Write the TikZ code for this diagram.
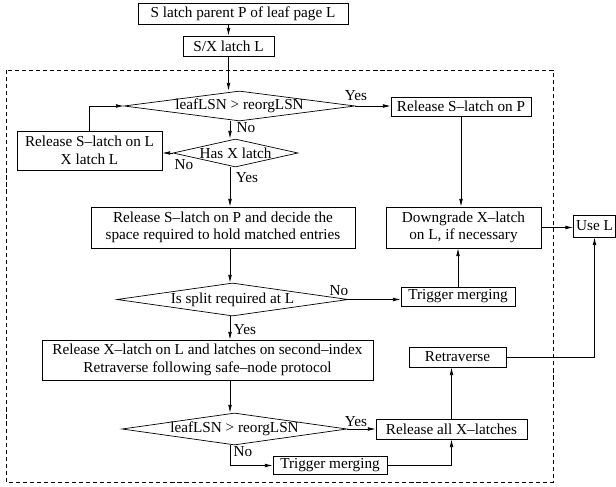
\documentclass[tikz,border=0pt]{standalone}
\usepackage{fontspec}
\setmainfont{Liberation Serif}
\usetikzlibrary{shapes.geometric,arrows.meta}
\newcommand{\dtext}[1]{\makebox[0pt]{#1}}
\begin{document}
\begin{tikzpicture}[x=0.03cm,y=-0.03cm,
    font=\fontsize{13}{15}\selectfont,
    blk/.style={draw,rectangle,inner sep=2pt,align=center,line width=0.6pt},
    dec/.style={draw,diamond,inner sep=0pt,line width=0.6pt},
    lbl/.style={inner sep=0pt},
    arr/.style={-{Latex[length=2.3mm,width=1.1mm]},line width=0.6pt}]
  \useasboundingbox (0,0) rectangle (616,487);
  \coordinate (ax) at (230,0);
  % dashed region
  \draw[dash pattern=on 3.5pt off 2.5pt, line width=0.6pt] (6,70) rectangle (553,482);
  % boxes
  \node[blk, minimum width=6.3cm, minimum height=0.63cm] (top) at (243,13.5) {S latch parent P of leaf page L};
  \node[blk, minimum width=2.73cm, minimum height=0.6cm] (sx) at (228.5,46) {S/X latch L};
  \node[dec, minimum width=6.93cm, minimum height=0.9cm] (d1) at (239.5,106) {\dtext{leafLSN > reorgLSN}};
  \node[blk, minimum width=4.2cm, minimum height=0.57cm] (relP) at (461,106.5) {Release S–latch on P};
  \node[dec, minimum width=3.75cm, minimum height=0.84cm] (hasx) at (235.5,153) {\dtext{Has X latch}};
  \node[blk, minimum width=4.35cm, minimum height=1.17cm] (relL) at (89.5,150.5) {Release S–latch on L\\X latch L};
  \node[blk, minimum width=7.92cm, minimum height=1.23cm] (decide) at (223,227.5) {Release S–latch on P and decide the\\space required to hold matched entries};
  \node[blk, minimum width=4.65cm, minimum height=1.23cm] (down) at (463.5,227.5) {Downgrade X–latch\\on L, if necessary};
  \node[blk, minimum width=1.26cm, minimum height=0.66cm] (useL) at (594.5,226) {Use L};
  \node[dec, minimum width=6.93cm, minimum height=0.99cm] (split) at (232.5,299.5) {\dtext{Is split required at L}};
  \node[blk, minimum width=3.42cm, minimum height=0.57cm] (trig1) at (458,296.5) {Trigger merging};
  \node[blk, minimum width=9.93cm, minimum height=1.2cm] (relX) at (207.5,360) {Release X–latch on L and latches on second–index\\Retraverse following safe–node protocol};
  \node[blk, minimum width=2.91cm, minimum height=0.6cm] (retr) at (457.5,357) {Retraverse};
  \node[dec, minimum width=6.75cm, minimum height=0.96cm] (d2) at (234.5,429) {\dtext{leafLSN > reorgLSN}};
  \node[blk, minimum width=4.53cm, minimum height=0.6cm] (relall) at (451.5,429) {Release all X–latches};
  \node[blk, minimum width=3.42cm, minimum height=0.51cm] (trig2) at (330,465.5) {Trigger merging};
  % labels
  \node[lbl] (y1) at (356,96) {Yes};
  \node[lbl] (n1) at (246,128) {No};
  \node[lbl] (n2) at (184,165) {No};
  \node[lbl] (y2) at (247,178) {Yes};
  \node[lbl] (n3) at (339,291) {No};
  \node[lbl] (y3) at (245,330) {Yes};
  \node[lbl] (y4) at (356,422) {Yes};
  \node[lbl] (n4) at (243,452) {No};
  % connectors
  \draw[arr] (top.south -| sx) -- (sx.north);
  \draw[arr] (sx.south) -- (sx.south |- d1.north);
  \draw[arr] (d1.east) -- (d1.east -| relP.west);
  \draw[arr] (d1.south -| ax) -- (hasx.north -| ax);
  \draw[arr] (hasx.west) -- (hasx.west -| relL.east);
  \draw[arr] (relL.north) |- (d1.west);
  \draw[arr] (hasx.south -| ax) -- (decide.north -| ax);
  \draw[arr] (relP.south) -- (relP.south |- down.north);
  \draw[arr] (decide.south -| ax) -- (split.north -| ax);
  \draw[arr] (split.east) -- (split.east -| trig1.west);
  \draw[arr] (trig1.north) -- (trig1.north |- down.south);
  \draw[arr] (down.east) -- (down.east -| useL.west);
  \draw[arr] (split.south -| ax) -- (relX.north -| ax);
  \draw[arr] (relX.south -| ax) -- (d2.north -| ax);
  \draw[arr] (d2.east) -- (d2.east -| relall.west);
  \draw[arr] (d2.south -| ax) |- (trig2.west);
  \draw[arr] (trig2.east) -| (relall.south);
  \draw[arr] (relall.north) -- (relall.north |- retr.south);
  \draw[arr] (retr.east) -| (useL.south);
\end{tikzpicture}
\end{document}
